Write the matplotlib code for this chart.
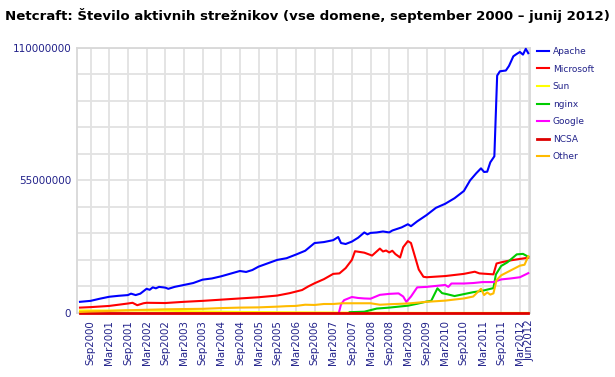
import matplotlib
matplotlib.use("Agg")
import matplotlib.pyplot as plt
from matplotlib.ticker import FixedLocator, MultipleLocator

# x = months after Sep 2000, y = millions of active servers
tick_months = [0, 6, 12, 18, 24, 30, 36, 42, 48, 54, 60, 66, 72, 78, 84, 90,
               96, 102, 108, 114, 120, 126, 132, 138, 141]
tick_labels = ["Sep2000", "Mar2001", "Sep2001", "Mar2002", "Sep2002", "Mar2003",
               "Sep2003", "Mar2004", "Sep2004", "Mar2005", "Sep2005", "Mar2006",
               "Sep2006", "Mar2007", "Sep2007", "Mar2008", "Sep2008", "Mar2009",
               "Sep2009", "Mar2010", "Sep2010", "Mar2011", "Sep2011", "Mar2012",
               "Jun2012"]

apache_x = [-3.4, 0, 3, 6, 9, 12, 13, 14.5, 16, 18, 19, 20, 21, 22, 24, 25, 27, 30,
            33, 36, 39, 42, 45, 48, 50, 52, 54, 57, 60, 63, 66, 69, 72, 75, 78, 79.6,
            80.5, 82, 84, 86, 88, 89, 90, 92, 94, 96, 97, 100, 102, 103, 105, 108,
            111, 114, 117, 120, 122, 124, 125.5, 126.5, 127.5, 128.5, 129.8, 130.2,
            130.7, 131.6, 133.5, 134.5, 135.9, 137, 138, 139, 139.9, 140.7]
apache_y = [4.6, 5.0, 5.9, 6.7, 7.1, 7.4, 8.0, 7.4, 8.0, 10.0, 9.6, 10.6, 10.2, 10.8,
            10.5, 10.0, 10.8, 11.6, 12.4, 13.8, 14.3, 15.2, 16.3, 17.4, 17.0, 17.8,
            19.2, 20.6, 22.0, 22.7, 24.2, 25.8, 29.0, 29.4, 30.2, 31.5, 29.0, 28.6,
            29.6, 31.2, 33.4, 32.6, 33.2, 33.4, 33.8, 33.4, 34.2, 35.5, 36.8, 36.0,
            38.0, 40.6, 43.6, 45.3, 47.6, 50.6, 55.0, 58.0, 60.0, 58.5, 58.6, 62.5,
            65.0, 80.0, 98.5, 100.3, 100.6, 102.5, 106.5, 107.5, 108.3, 107.2, 109.6,
            107.8]

microsoft_x = [-3.4, 0, 6, 12, 13.5, 15, 17, 18, 24, 30, 36, 42, 48, 54, 60, 64, 68,
               70, 72, 75, 78, 80, 82, 84, 85, 88, 90.5, 93, 94, 95, 96, 97, 98, 99.5,
               100.5, 102, 103, 105.5, 107, 108, 114, 120, 123.5, 125, 129.5, 130.5,
               132, 135, 138, 140.7]
microsoft_y = [2.2, 2.4, 2.9, 3.9, 4.2, 3.2, 4.0, 4.2, 4.1, 4.6, 5.0, 5.5, 6.0, 6.5,
               7.2, 8.2, 9.5, 11.0, 12.3, 14.0, 16.2, 16.4, 18.6, 22.0, 25.6, 25.0,
               23.8, 26.7, 25.5, 25.9, 25.1, 25.8, 24.4, 23.0, 27.3, 29.8, 29.0, 18.0,
               15.0, 14.8, 15.3, 16.2, 17.1, 16.4, 16.0, 20.5, 21.0, 21.8, 22.4, 22.9]

sun_x = [-3.4, 12, 24, 36, 48, 60, 72, 84, 96, 108, 140.7]
sun_y = [1.0, 1.0, 0.9, 0.6, 0.4, 0.3, 0.2, 0.1, 0.05, 0.0, 0.0]

nginx_x = [83.3, 88, 92, 96, 102, 105, 108, 109.5, 111.5, 113, 114.5, 117, 120, 123,
           126, 129.5, 130.3, 132, 134, 137, 139, 140.7]
nginx_y = [0.3, 0.5, 1.8, 2.2, 3.0, 3.8, 4.7, 5.0, 10.2, 8.2, 7.8, 7.0, 7.8, 8.6, 9.2,
           10.3, 16.0, 19.5, 21.0, 24.3, 24.5, 23.3]

google_x = [79.8, 80.5, 81.5, 84, 86, 88, 90, 93, 96, 99, 100.5, 101.5, 103, 105, 108,
            111, 114, 115, 116, 120, 123, 126, 129.5, 132, 135, 138, 140.7]
google_y = [0.0, 3.5, 5.3, 6.6, 6.2, 6.0, 5.9, 7.5, 7.9, 8.1, 6.8, 4.6, 6.8, 10.6, 10.8,
            11.2, 11.6, 10.8, 12.2, 12.2, 12.4, 12.8, 12.8, 13.9, 14.3, 14.8, 16.5]

ncsa_x = [-3.4, 140.7]
ncsa_y = [0.0, 0.0]

other_x = [-3.4, 0, 6, 12, 18, 24, 30, 36, 42, 48, 54, 60, 63, 66, 69, 72, 75, 78, 81,
           84, 90, 93, 96, 102, 108, 114, 120, 123, 125.5, 126.5, 127.5, 128.5, 129.5,
           130.5, 132, 135, 138, 139.5, 140.7]
other_y = [0.4, 0.6, 0.8, 1.1, 1.3, 1.5, 1.6, 1.7, 2.0, 2.2, 2.3, 2.6, 2.8, 2.9, 3.4,
           3.3, 3.7, 3.7, 4.0, 4.0, 4.0, 3.4, 3.6, 3.9, 4.6, 5.1, 6.0, 6.8, 10.0, 7.4,
           8.5, 7.6, 8.1, 13.6, 15.6, 17.6, 19.6, 20.0, 23.5]

navy = "#22228a"

fig = plt.figure(figsize=(6.15, 3.77), dpi=100)
ax = fig.add_axes([0.125, 0.170, 0.737, 0.703])

series = [
    ("Apache", apache_x, apache_y, "#0000ff"),
    ("Microsoft", microsoft_x, microsoft_y, "#ff0000"),
    ("Sun", sun_x, sun_y, "#ffff00"),
    ("nginx", nginx_x, nginx_y, "#00cc00"),
    ("Google", google_x, google_y, "#ff00ff"),
    ("NCSA", ncsa_x, ncsa_y, "#dd0000"),
    ("Other", other_x, other_y, "#ffbb00"),
]
for name, xs, ys, col in series:
    lw = 2.0 if name == "NCSA" else 1.5
    ax.plot(xs, [v * 1e6 for v in ys], color=col, lw=lw, label=name,
            clip_on=False, zorder=3)

ax.set_xlim(-4.4, 141.3)
ax.set_ylim(0, 110e6)

ax.xaxis.set_major_locator(FixedLocator(tick_months))
ax.set_xticklabels(tick_labels, rotation=90, color=navy, fontsize=7.4)
ax.yaxis.set_major_locator(FixedLocator([0, 55e6, 110e6]))
ax.set_yticklabels(["0", "55000000", "110000000"], color=navy, fontsize=7.5)
ax.yaxis.set_minor_locator(MultipleLocator(11e6))
ax.tick_params(axis="both", which="both", length=0)
ax.tick_params(axis="x", pad=5)
ax.tick_params(axis="y", pad=4)

ax.grid(True, which="both", color="#e2e2e2", lw=1.3, zorder=0)
for s in ax.spines.values():
    s.set_color("#d8d8d8")
    s.set_linewidth(1.3)

fig.legend(loc="upper left", bbox_to_anchor=(0.868, 0.885), frameon=False,
           fontsize=6.5, labelcolor=navy, handlelength=1.3, handletextpad=0.4,
           labelspacing=0.95, borderaxespad=0)

fig.text(0.008, 0.958,
         "Netcraft: Število aktivnih strežnikov (vse domene, september 2000 \u2013 junij 2012)",
         fontsize=9.6, fontweight="bold", ha="left", va="center")

fig.savefig("out.png", dpi=100)
